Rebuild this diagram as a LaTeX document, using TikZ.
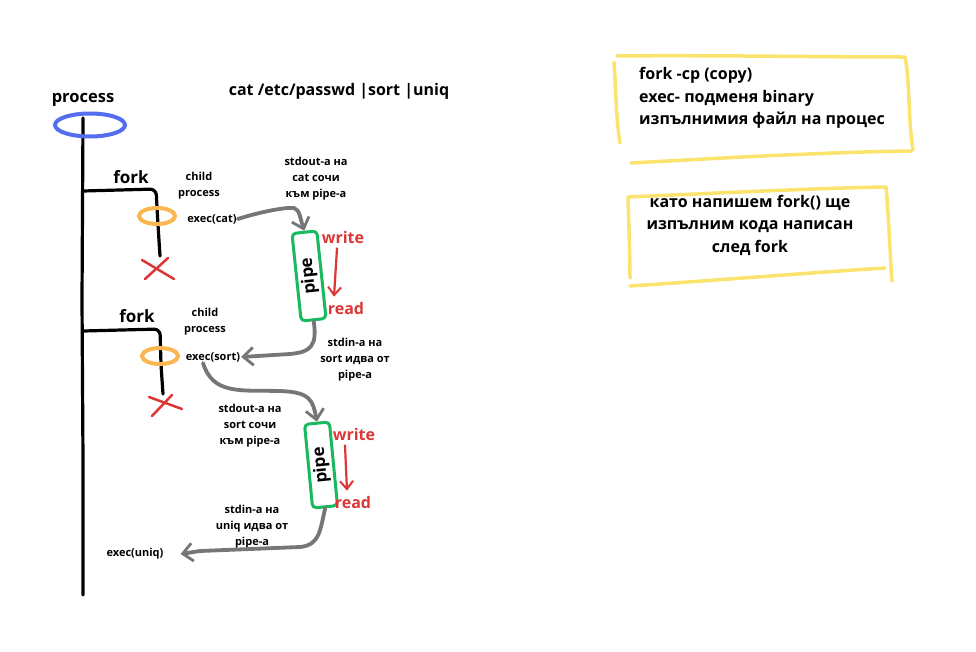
\documentclass[tikz,border=0pt]{standalone}
\usepackage{fontspec}
\setmainfont{Open Sans}[BoldFont={Open Sans Bold}]
\usetikzlibrary{shapes.geometric,arrows.meta}
\definecolor{pblue}{RGB}{85,110,240}
\definecolor{porange}{RGB}{250,182,80}
\definecolor{pred}{RGB}{220,55,55}
\definecolor{pgreen}{RGB}{25,185,95}
\definecolor{pgray}{RGB}{118,118,118}
\definecolor{pyellow}{RGB}{250,228,110}
\tikzset{
  lbl/.style={font=\bfseries\fontsize{#1}{16}\selectfont, inner sep=1pt, align=center},
  lbl/.default=11,
  boxtxt/.style={font=\bfseries\fontsize{16}{22.5}\selectfont, inner sep=1pt},
  procline/.style={line width=3.2pt, line cap=round, line join=round, rounded corners=6pt},
  grayarrow/.style={draw=pgray, line width=3.8pt, line cap=round, -{Straight Barb[length=10pt,width=18pt,line width=2.8pt]}},
  redarrow/.style={draw=pred, line width=2.2pt, line cap=round, -{Straight Barb[length=8pt,width=13pt,line width=2pt]}},
  pipebox/.style={draw=pgreen, line width=3pt, rounded corners=4pt, minimum width=88pt, minimum height=25pt, font=\bfseries\fontsize{17}{17}\selectfont, inner sep=0pt},
  ring/.style={draw=porange, line width=4pt, ellipse, inner sep=0pt},
  xmark/.style={draw=pred, line width=2.5pt, line cap=round},
  ybox/.style={draw=pyellow, line width=3.5pt, line cap=round, line join=round},
}
\begin{document}
\begin{tikzpicture}[x=1pt,y=-1pt]
\useasboundingbox[fill=white] (0,0) rectangle (976,651);

% main process line
\coordinate (top) at (83,118);
\coordinate (bottom) at (83,595);
\draw[procline] (top) -- (82,300) -- (83,460) -- (bottom);
\node[lbl=16.5] (process) at (83,100) {process};
\node[draw=pblue, line width=4pt, ellipse, minimum width=70pt, minimum height=23pt] (pring) at (90,125) {};
\node[lbl=16] (cmd) at (339,91) {cat /etc/passwd |sort |uniq};

% first fork
\coordinate (f1a) at (83,191);
\coordinate (f1end) at (160,256);
\draw[procline] (f1a) -- (156,189) -- (158,225) -- (f1end);
\node[lbl=17] (fork1) at (131,177) {fork};
\node[ring, minimum width=36pt, minimum height=16pt] (o1) at (157,216) {};
\draw[xmark] (142,260) -- (174,279);
\draw[xmark] (145,279) -- (168,258);
\node[lbl] (child1) at (199,186) {child\\process};
\node[lbl] (execcat) at (212,219) {exec(cat)};
\node[lbl] (note1) at (316,179) {stdout-a на\\cat сочи\\към pipe-a};

% pipe 1
\node[pipebox, rotate=96] (pipe1) at (309,276) {pipe};
\node[lbl=16, text=pred] (write1) at (343,237) {write};
\node[lbl=16, text=pred] (read1) at (346,308) {read};
\draw[redarrow] ([xshift=-6pt,yshift=-4pt]write1.south) -- ([xshift=-12pt,yshift=4pt]read1.north);
\draw[grayarrow] (execcat.east) .. controls (260,212) and (285,207) .. (294,208) .. controls (300,210) and (300,218) .. (pipe1.east);

% second fork
\coordinate (f2a) at (83,331);
\coordinate (f2end) at (163,394);
\draw[procline] (f2a) -- (160,329) -- (161,365) -- (f2end);
\node[lbl=17] (fork2) at (137,316) {fork};
\node[ring, minimum width=36pt, minimum height=16pt] (o2) at (160,356) {};
\draw[xmark] (149,397) -- (182,409);
\draw[xmark] (152,416) -- (172,395);
\node[lbl] (child2) at (205,322) {child\\process};
\node[lbl] (execsort) at (213,357) {exec(sort)};
\node[lbl] (note2) at (355,360) {stdin-a на\\sort идва от\\pipe-a};
\draw[grayarrow] (pipe1.west) .. controls (317,345) and (312,352) .. (290,354) -- (execsort.east);

% arrow sort -> pipe 2
\node[lbl] (note3) at (250,426) {stdout-a на\\sort сочи\\към pipe-a};
\node[pipebox, rotate=95.5, minimum width=84pt] (pipe2) at (321,465) {pipe};
\draw[grayarrow] ([xshift=-10pt]execsort.south) .. controls (213,395) and (240,390) .. (280,391) .. controls (310,392) and (313,400) .. (pipe2.east);
\node[lbl=16, text=pred] (write2) at (354,434) {write};
\node[lbl=16, text=pred] (read2) at (353,502) {read};
\draw[redarrow] ([xshift=-9pt,yshift=-4pt]write2.south) -- ([xshift=-6pt,yshift=4pt]read2.north);

% uniq
\node[lbl] (execuniq) at (135,554) {exec(uniq)};
\node[lbl] (note4) at (252,527) {stdin-a на\\uniq идва от\\pipe-a};
\draw[grayarrow] (pipe2.west) .. controls (320,530) and (320,545) .. (300,547) -- (200,551) -- ([xshift=16pt]execuniq.east);

% yellow box 1
\draw[ybox] (617,56) .. controls (700,55) and (820,57) .. (905,57) .. controls (910,80) and (908,120) .. (913,150)
  (631,163) .. controls (720,158) and (830,152) .. (911,151)
  (614,62) .. controls (616,90) and (616,120) .. (620,143);
\node[boxtxt, align=left, anchor=west] (b1) at (638,98) {fork -cp (copy)\\exec- подменя binary\\изпълнимия файл на процес};

% yellow box 2
\draw[ybox] (628,197) .. controls (720,193) and (820,188) .. (886,187) .. controls (889,220) and (890,255) .. (892,281)
  (630,286) .. controls (720,280) and (820,272) .. (885,268)
  (628,198) .. controls (629,230) and (630,260) .. (630,278);
\node[boxtxt, align=center] (b2) at (750,225) {като напишем fork() ще\\изпълним кода написан\\след fork};
\end{tikzpicture}
\end{document}
